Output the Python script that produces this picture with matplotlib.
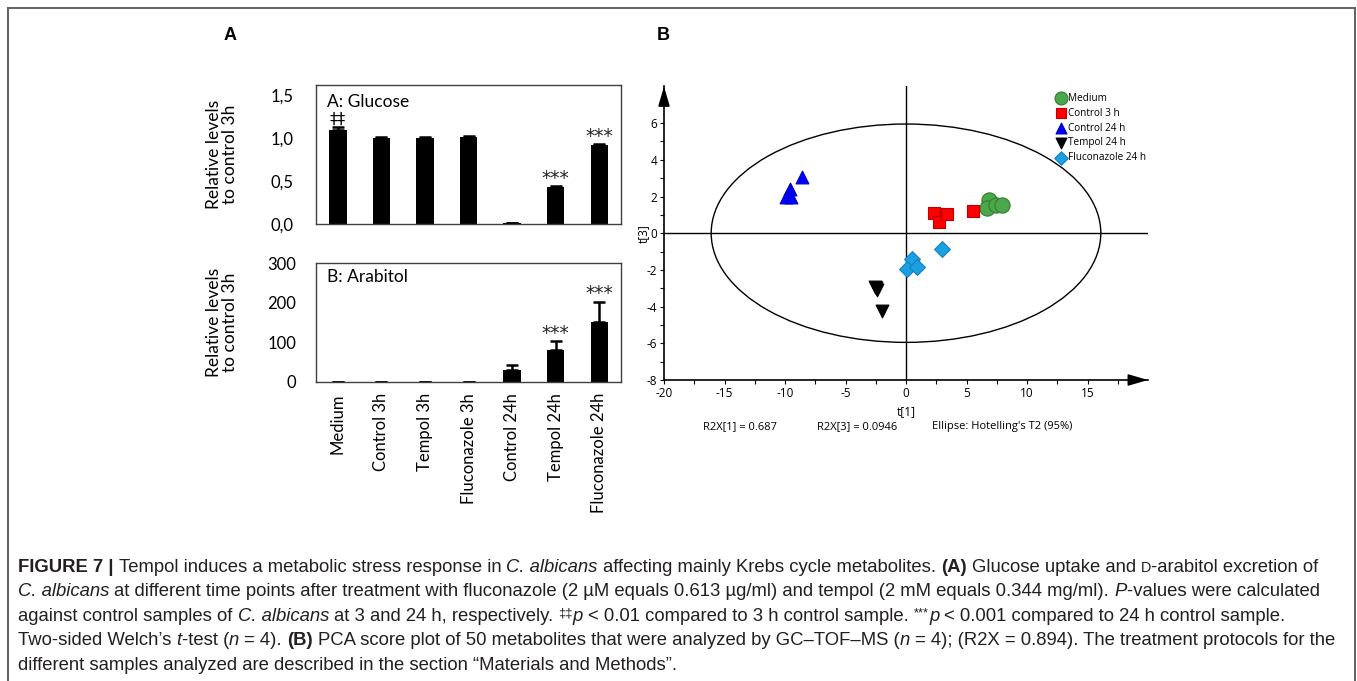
import matplotlib
matplotlib.use("Agg")
import matplotlib.pyplot as plt
from matplotlib import font_manager
from matplotlib.patches import Ellipse
from matplotlib.lines import Line2D

plt.rcParams['axes.unicode_minus'] = False

W, H = 1357, 681

# ---- data, panel A ----
categories = ['Medium', 'Control 3h', 'Tempol 3h', 'Fluconazole 3h',
              'Control 24h', 'Tempol 24h', 'Fluconazole 24h']
glucose = [1.10, 1.00, 1.00, 1.01, 0.01, 0.43, 0.92]
glucose_err = [0.03, 0.01, 0.01, 0.01, 0.0, 0.01, 0.01]
glucose_sig = ['‡‡', '', '', '', '', '***', '***']
arabitol = [1, 1, 1, 1, 31, 80, 151]
arabitol_err = [0, 0, 0, 0, 11, 23, 51]
arabitol_sig = ['', '', '', '', '', '***', '***']
glucose_ticks = [0.0, 0.5, 1.0, 1.5]
glucose_ticklabels = ['0,0', '0,5', '1,0', '1,5']
arabitol_ticks = [0, 100, 200, 300]

# ---- data, panel B (PCA scores t[1], t[3]) ----
groups = ['Medium', 'Control 3 h', 'Control 24 h', 'Tempol 24 h', 'Fluconazole 24 h']
t1 = [[6.9, 6.7, 7.4, 7.9],
      [2.3, 2.7, 3.4, 5.5],
      [-9.6, -9.9, -9.5, -8.6],
      [-2.6, -2.4, -2.5, -2.0],
      [0.5, 0.1, 0.95, 2.95]]
t3 = [[1.8, 1.4, 1.55, 1.55],
      [1.1, 0.6, 1.05, 1.2],
      [2.4, 1.95, 2.0, 3.05],
      [-2.95, -3.1, -3.0, -4.25],
      [-1.4, -1.95, -1.85, -0.85]]
ellipse_t1, ellipse_t3 = 16.1, 5.95
r2x_texts = ['R2X[1] = 0.687', 'R2X[3] = 0.0946', "Ellipse: Hotelling's T2 (95%)"]

markers = ['o', 's', '^', 'v', 'D']
faces = ['#4ca64c', '#ff0000', '#0000ff', '#000000', '#1ba1e2']
edges = ['#2f7f2f', '#c00000', '#0000c0', '#000000', '#1580c0']
sizes = [120, 85, 85, 85, 65]

fa = 'Lato'
fb = 'Open Sans'


def fr(x0, y0, x1, y1):
    # pixel box -> figure fraction rect
    return [x0 / W, 1 - y1 / H, (x1 - x0) / W, (y1 - y0) / H]


fig = plt.figure(figsize=(W / 100, H / 100), dpi=100)

# border (open at bottom)
for xs, ys in [([8, 8], [681, 8]), ([8, 1355], [8, 8]), ([1355, 1355], [8, 681])]:
    fig.add_artist(Line2D([x / W for x in xs], [1 - y / H for y in ys],
                          color='#606060', lw=1.4))

fig.text(230 / W, 1 - 35 / H, 'A', fontsize=13, fontweight='bold',
         family='Liberation Sans', ha='center', va='center')
fig.text(663 / W, 1 - 35 / H, 'B', fontsize=13, fontweight='bold',
         family='Liberation Sans', ha='center', va='center')

# ---- panel A ----
x = list(range(len(categories)))
ax1 = fig.add_axes(fr(316, 85, 621, 224))
ax2 = fig.add_axes(fr(316, 263, 621, 382))

for ax, vals, err, sig, title in [(ax1, glucose, glucose_err, glucose_sig, 'A: Glucose'),
                                  (ax2, arabitol, arabitol_err, arabitol_sig, 'B: Arabitol')]:
    ax.bar(x, vals, width=0.4, color='black',
           yerr=[[0] * len(err), err], capsize=4,
           error_kw=dict(elinewidth=1.8, capthick=1.8, ecolor='black'))
    for xi, v, e, s in zip(x, vals, err, sig):
        if s == '***':
            ax.annotate(s, (xi, v + e), xytext=(0, -1), textcoords='offset points',
                        ha='center', va='bottom', fontsize=13.5,
                        family='DejaVu Sans', color='#222222')
        elif s:
            ax.annotate(s, (xi, v + e), xytext=(0, 0), textcoords='offset points',
                        ha='center', va='bottom', fontsize=11.5, family='DejaVu Sans')
    ax.set_xlim(-0.5, len(categories) - 0.5)
    for sp in ax.spines.values():
        sp.set_color('#404040')
        sp.set_linewidth(1.0)
    ax.tick_params(length=0, labelsize=12)
    ax.text(0.035, 0.88, title, transform=ax.transAxes, fontsize=12.5,
            family=fa, va='center')
    ax.set_ylabel('Relative levels\nto control 3h', family=fa, fontsize=12.5,
                  linespacing=1.0)

ax1.set_ylim(0, 1.62)
ax1.set_yticks(glucose_ticks)
ax1.set_yticklabels(glucose_ticklabels, family=fa)
ax1.tick_params(axis='y', pad=16)
ax1.set_xticks([])

ax2.set_ylim(0, 300)
ax2.set_yticks(arabitol_ticks)
ax2.set_yticklabels([str(t) for t in arabitol_ticks], family=fa)
ax2.tick_params(axis='y', pad=14)
ax2.set_xticks(x)
ax2.set_xticklabels(categories, rotation=90, family=fa, fontsize=12)
ax2.tick_params(axis='x', pad=8)

ax1.yaxis.set_label_coords(-0.255, 0.5)
ax2.yaxis.set_label_coords(-0.255, 0.5)

# ---- panel B ----
axb = fig.add_axes(fr(664, 86.4, 1148, 380))
axb.set_xlim(-20, 20)
axb.set_ylim(-8, 8)
for g in range(len(groups)):
    axb.scatter(t1[g], t3[g], marker=markers[g], s=sizes[g], c=faces[g],
                edgecolors=edges[g], linewidths=0.8, zorder=3, label=groups[g])
axb.add_patch(Ellipse((0, 0), 2 * ellipse_t1, 2 * ellipse_t3, fill=False,
                      lw=1.0, color='black'))
axb.axhline(0, color='black', lw=1.0)
axb.axvline(0, color='black', lw=1.0)
axb.spines['top'].set_visible(False)
axb.spines['right'].set_visible(False)
axb.spines['left'].set_linewidth(1.2)
axb.spines['bottom'].set_linewidth(1.2)
axb.annotate('', xy=(20.0, -8), xytext=(18.6, -8),
             arrowprops=dict(arrowstyle='-|>,head_length=1.2,head_width=0.35',
                             color='black', lw=1.2, shrinkA=0, shrinkB=0),
             annotation_clip=False)
axb.annotate('', xy=(-20, 8.0), xytext=(-20, 7.0),
             arrowprops=dict(arrowstyle='-|>,head_length=1.2,head_width=0.35',
                             color='black', lw=1.2, shrinkA=0, shrinkB=0),
             annotation_clip=False)
axb.set_xticks([-20, -15, -10, -5, 0, 5, 10, 15])
axb.set_yticks([-8, -6, -4, -2, 0, 2, 4, 6])
axb.set_xticks([-17.5, -12.5, -7.5, -2.5, 2.5, 7.5, 12.5, 17.5], minor=True)
axb.set_yticks(list(range(-7, 8, 2)), minor=True)
axb.tick_params(which='both', direction='out', length=3, width=0.8,
                labelsize=8.5, pad=2)
for lab in axb.get_xticklabels() + axb.get_yticklabels():
    lab.set_family(fb)
axb.set_xlabel('t[1]', family=fb, fontsize=8.5, labelpad=4)
axb.yaxis.set_label_coords(-0.029, 0.5)
axb.set_ylabel('t[3]', family=fb, fontsize=8.5)

leg = axb.legend(loc='upper left', bbox_to_anchor=(1052 / W, 1 - 88 / H),
                 bbox_transform=fig.transFigure, frameon=False,
                 prop=dict(family=fb, size=7.2), handlelength=0.7,
                 handletextpad=0.4, labelspacing=0.38, borderpad=0,
                 markerscale=0.85)

for txt, xc in zip(r2x_texts, [740, 857, 1002]):
    fig.text(xc / W, 1 - 427 / H, txt, family=fb, fontsize=8,
             ha='center', va='center')

# ---- caption ----
names = {f.name for f in font_manager.fontManager.ttflist}
fc = 'Liberation Sans Narrow' if 'Liberation Sans Narrow' in names else 'Liberation Sans'

caption = [
    [('FIGURE 7 | ', 'b'), ('Tempol induces a metabolic stress response in ', 'n'),
     ('C. albicans', 'i'), (' affecting mainly Krebs cycle metabolites. ', 'n'),
     ('(A)', 'b'), (' Glucose uptake and ', 'n'), ('D', 'sc'), ('-arabitol excretion of', 'n')],
    [('C. albicans', 'i'),
     (' at different time points after treatment with fluconazole (2 µM equals 0.613 µg/ml) and tempol (2 mM equals 0.344 mg/ml). ', 'n'),
     ('P', 'i'), ('-values were calculated', 'n')],
    [('against control samples of ', 'n'), ('C. albicans', 'i'),
     (' at 3 and 24 h, respectively. ', 'n'), ('‡‡', 'sup'), ('p', 'i'),
     (' < 0.01 compared to 3 h control sample. ', 'n'), ('***', 'sup'), ('p', 'i'),
     (' < 0.001 compared to 24 h control sample.', 'n')],
    [("Two-sided Welch’s ", 'n'), ('t', 'i'), ('-test (', 'n'), ('n', 'i'),
     (' = 4). ', 'n'), ('(B)', 'b'),
     (' PCA score plot of 50 metabolites that were analyzed by GC–TOF–MS (', 'n'),
     ('n', 'i'), (' = 4); (R2X = 0.894). The treatment protocols for the', 'n')],
    [('different samples analyzed are described in the section “Materials and Methods”.', 'n')],
]
line_y = [572, 596, 621, 645, 670]
x_left = 18
renderer = fig.canvas.get_renderer()


def props(kind, size):
    d = dict(family=fc, fontsize=size, color='#231f20')
    if kind == 'b':
        d['fontweight'] = 'bold'
    if kind == 'i':
        d['fontstyle'] = 'italic'
    if kind == 'sc':
        d['fontsize'] = size * 0.78
    if kind == 'sup':
        d['fontsize'] = size * 0.7
    return d


def width(s, kind, size):
    t = fig.text(0, 0, s, **props(kind, size))
    w = t.get_window_extent(renderer).width
    t.remove()
    return w


def layout(line, size):
    xpos = x_left
    placed = []
    sp = width('a a', 'n', size) - width('aa', 'n', size)
    for s, kind in line:
        if s.startswith(' '):
            xpos += sp
        core = s.strip()
        if core:
            placed.append((xpos, core, kind))
            xpos += width(core, kind, size)
        if s.endswith(' ') and s.strip():
            xpos += sp
    return xpos, placed


base = 11.0
end1, _ = layout(caption[0], base)
size = base * (1316 - x_left) / (end1 - x_left)
for line, yb in zip(caption, line_y):
    _, placed = layout(line, size)
    for xp, core, kind in placed:
        dy = 5 if kind == 'sup' else 0
        fig.text(xp / W, 1 - (yb - dy) / H, core, va='baseline', **props(kind, size))

fig.savefig('out.png', dpi=100)
